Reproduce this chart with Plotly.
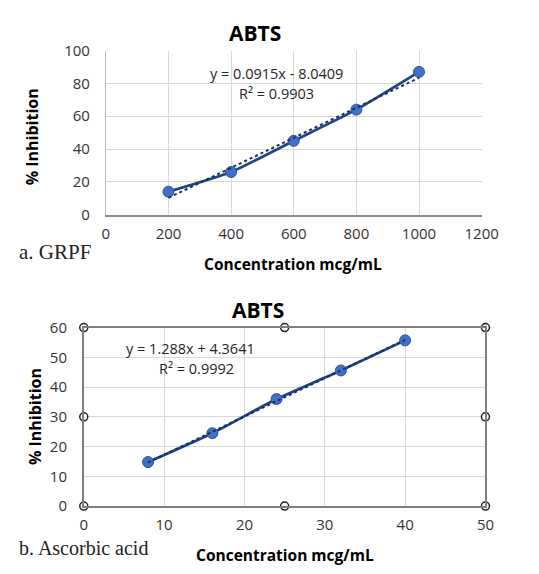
import plotly.graph_objects as go
import numpy as np

# Data
grpf_conc = [200, 400, 600, 800, 1000]
grpf_inhib = [14, 26, 45, 64, 87]
grpf_eq = "y = 0.0915x - 8.0409"
grpf_r2 = "R² = 0.9903"
grpf_slope, grpf_int = 0.0915, -8.0409

asc_conc = [8, 16, 24, 32, 40]
asc_inhib = [14.8, 24.5, 36, 45.6, 55.7]
asc_eq = "y = 1.288x + 4.3641"
asc_r2 = "R² = 0.9992"
asc_slope, asc_int = 1.288, 4.3641

top_xticks = [0, 200, 400, 600, 800, 1000, 1200]
top_yticks = [0, 20, 40, 60, 80, 100]
bot_xticks = [0, 10, 20, 30, 40, 50]
bot_yticks = [0, 10, 20, 30, 40, 50, 60]

W, H = 539, 574
def px(x): return x / W
def py(y): return 1 - y / H

NAVY = "#1e4488"
DOT = "#1a2f5e"
BLUE = "#3f6fc6"
FONT = "Open Sans"
TICKC = "#333333"

fig = go.Figure()

# top chart
fig.add_trace(go.Scatter(x=grpf_conc, y=grpf_inhib, mode="lines+markers",
    line=dict(color=NAVY, width=2.75, shape="spline", smoothing=0.5),
    marker=dict(size=11, color=BLUE, line=dict(color="#2f5597", width=1)),
    xaxis="x", yaxis="y", showlegend=False))
tx = np.array([grpf_conc[0], grpf_conc[-1]])
fig.add_trace(go.Scatter(x=tx, y=grpf_slope * tx + grpf_int, mode="lines",
    line=dict(color=DOT, width=2, dash="dot"), xaxis="x", yaxis="y", showlegend=False))

# bottom chart
fig.add_trace(go.Scatter(x=asc_conc, y=asc_inhib, mode="lines+markers",
    line=dict(color=NAVY, width=2.75, shape="spline", smoothing=0.5),
    marker=dict(size=11, color=BLUE, line=dict(color="#2f5597", width=1)),
    xaxis="x2", yaxis="y2", showlegend=False))
bx = np.array([asc_conc[0], asc_conc[-1]])
fig.add_trace(go.Scatter(x=bx, y=asc_slope * bx + asc_int, mode="lines",
    line=dict(color=DOT, width=2, dash="dot"), xaxis="x2", yaxis="y2", showlegend=False))

# selection handles on bottom chart (derived from axis range)
bxr = [bot_xticks[0], bot_xticks[-1]]
byr = [bot_yticks[0], bot_yticks[-1]]
xm = (bxr[0] + bxr[1]) / 2
ym = (byr[0] + byr[1]) / 2
hx = [bxr[0], xm, bxr[1], bxr[0], bxr[1], bxr[0], xm, bxr[1]]
hy = [byr[0], byr[0], byr[0], ym, ym, byr[1], byr[1], byr[1]]
fig.add_trace(go.Scatter(x=hx, y=hy, mode="markers", cliponaxis=False,
    marker=dict(size=8, color="white", line=dict(color="#222222", width=1.5)),
    xaxis="x2", yaxis="y2", showlegend=False, hoverinfo="skip"))

tickfont = dict(family=FONT, size=15, color=TICKC)
common_grid = dict(showgrid=True, gridcolor="#d9d9d9", gridwidth=1, zeroline=False,
                   tickfont=tickfont, ticks="")

fig.update_layout(
    width=W, height=H, margin=dict(l=0, r=0, t=0, b=0),
    paper_bgcolor="white", plot_bgcolor="white",
    xaxis=dict(domain=[px(106), px(497)], range=[0, 1200], tickvals=top_xticks, ticklabelstandoff=5,
               anchor="y", showline=True, linecolor="#8c8c8c", linewidth=1.5, **common_grid),
    yaxis=dict(domain=[py(211), py(41)], range=[0, 100], tickvals=top_yticks, ticklabelstandoff=12,
               anchor="x", showline=True, linecolor="#bfbfbf", linewidth=1, **common_grid),
    xaxis2=dict(domain=[px(83), px(501)], range=bxr, tickvals=bot_xticks, ticklabelstandoff=4,
                anchor="y2", showline=True, mirror=True, linecolor="#7f7f7f", linewidth=1.5, **common_grid),
    yaxis2=dict(domain=[py(513), py(328)], range=byr, tickvals=bot_yticks, ticklabelstandoff=12,
                anchor="x2", showline=True, mirror=True, linecolor="#7f7f7f", linewidth=1.5, **common_grid),
)

ann = []
def A(x, y, text, size, bold=False, family=FONT, color="black", xanchor="center", angle=0, xref="paper", yref="paper"):
    ann.append(dict(x=x, y=y, xref=xref, yref=yref, text=f"<b>{text}</b>" if bold else text,
                    showarrow=False, font=dict(family=family, size=size, color=color),
                    xanchor=xanchor, yanchor="middle", textangle=angle))

# titles
A(px(261), py(23), "ABTS", 21, bold=True)
A(px(264), py(310), "ABTS", 21, bold=True)
# axis titles
A(px(301), py(262), "Concentration mcg/mL", 15.5, bold=True)
A(px(30), py(130), "% Inhibition", 16, bold=True, angle=-90)
A(px(292), py(564), "Concentration mcg/mL", 15.5, bold=True)
A(px(33), py(420), "% Inhibition", 16, bold=True, angle=-90)
# panel labels
A(px(14), py(250), "a. GRPF", 21, family="Liberation Serif", color="#222222", xanchor="left")
A(px(14), py(556), "b. Ascorbic acid", 20, family="Liberation Serif", color="#222222", xanchor="left")
# equations
A(545, 85.9, grpf_eq, 14.5, color="#262626", xref="x", yref="y")
A(545, 74, grpf_r2, 14.5, color="#262626", xref="x", yref="y")
A(13.3, 52.9, asc_eq, 14.5, color="#262626", xref="x2", yref="y2")
A(14.0, 46.4, asc_r2, 14.5, color="#262626", xref="x2", yref="y2")

fig.update_layout(annotations=ann)
fig.write_html("out.html")
